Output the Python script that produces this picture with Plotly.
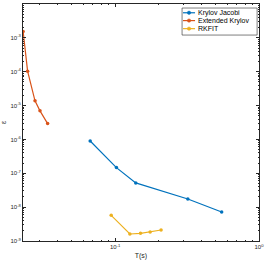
import plotly.graph_objects as go

kj_T = [0.067, 0.102, 0.139, 0.32, 0.55]
kj_eps = [9.0e-7, 1.47e-7, 5.2e-8, 1.74e-8, 7.2e-9]
ek_T = [0.0229, 0.0246, 0.0277, 0.0300, 0.0339]
ek_eps = [1.55e-3, 1.04e-4, 1.38e-5, 6.98e-6, 2.94e-6]
rk_T = [0.0938, 0.1265, 0.150, 0.175, 0.2085]
rk_eps = [5.74e-9, 1.61e-9, 1.69e-9, 1.84e-9, 2.11e-9]

x_exps = [-1, 0]
y_exps = [-9, -8, -7, -6, -5, -4, -3, -2]
x_ticktext = ["10<sup>%d</sup>" % e for e in x_exps]
y_ticktext = ["10<sup>%d</sup>" % e for e in y_exps]

series = [
    ("Krylov Jacobi", kj_T, kj_eps, "#0072BD"),
    ("Extended Krylov", ek_T, ek_eps, "#D95319"),
    ("RKFIT", rk_T, rk_eps, "#EDB120"),
]

FONT = "Liberation Sans"
INK = "#262626"


def minor_vals(e0, e1):
    return [m * 10.0 ** e for e in range(e0, e1) for m in range(2, 10)]


fig = go.Figure()
for name, x, y, c in series:
    fig.add_trace(go.Scatter(x=x, y=y, name=name, mode="lines+markers",
                             line=dict(color=c, width=1.2),
                             marker=dict(color=c, size=3.5, symbol="circle"),
                             showlegend=False))

axis_common = dict(type="log", showgrid=False, zeroline=False, showline=True,
                   linecolor=INK, linewidth=0.7, mirror="allticks",
                   ticks="inside", ticklen=3, tickcolor=INK, tickwidth=0.6,
                   automargin=False,
                   tickfont=dict(family=FONT, size=6, color=INK))

fig.update_xaxes(**axis_common, range=[-1.641, 0],
                 tickvals=[10.0 ** e for e in x_exps], ticktext=x_ticktext,
                 minor=dict(tickmode="array", tickvals=minor_vals(-2, 0),
                            ticks="inside", ticklen=1.5, tickcolor=INK,
                            tickwidth=0.5, showgrid=False),
                 title=dict(text="T(s)", standoff=4,
                            font=dict(family=FONT, size=7, color=INK)))
fig.update_yaxes(**axis_common, range=[-9, -2],
                 tickvals=[10.0 ** e for e in y_exps], ticktext=y_ticktext,
                 minor=dict(tickmode="array", tickvals=minor_vals(-9, -2),
                            ticks="inside", ticklen=1.5, tickcolor=INK,
                            tickwidth=0.5, showgrid=False),
                 title=dict(text="ε", standoff=4,
                            font=dict(family=FONT, size=7, color=INK)))

# manual legend (box, sample lines, markers, labels)
box = dict(x0=0.674, x1=0.992, y0=0.869, y1=0.983)
fig.add_shape(type="rect", xref="paper", yref="paper", **box,
              line=dict(color=INK, width=0.6), fillcolor="white", layer="above")
row_y = [0.963, 0.930, 0.896]
for (name, x, y, c), ry in zip(series, row_y):
    fig.add_shape(type="line", xref="paper", yref="paper",
                  x0=0.678, x1=0.729, y0=ry, y1=ry,
                  line=dict(color=c, width=1.2), layer="above")
    fig.add_shape(type="circle", xref="paper", yref="paper",
                  xsizemode="pixel", ysizemode="pixel",
                  xanchor=0.7035, yanchor=ry, x0=-1.7, x1=1.7, y0=-1.7, y1=1.7,
                  line=dict(color=c, width=0.5), fillcolor=c, layer="above")
    fig.add_annotation(xref="paper", yref="paper", x=0.733, y=ry,
                       xanchor="left", yanchor="middle", text=name,
                       showarrow=False, font=dict(family=FONT, size=7, color="#000000"))

fig.update_layout(
    width=266, height=262,
    margin=dict(l=23, r=7, t=4, b=21, autoexpand=False),
    plot_bgcolor="white", paper_bgcolor="white",
    font=dict(family=FONT, size=7, color=INK),
    showlegend=False,
)

fig.write_html("out.html", config={"displayModeBar": False},
               post_script="document.body.style.margin='0';document.body.style.overflow='hidden';")
